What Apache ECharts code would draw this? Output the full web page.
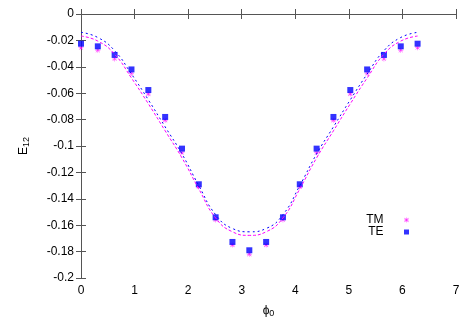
<!DOCTYPE html>
<html>
<head>
<meta charset="utf-8">
<script src="https://cdn.jsdelivr.net/npm/echarts@6/dist/echarts.min.js"></script>
<style>
  html, body { margin: 0; padding: 0; background: #fff; }
  #chart { width: 469px; height: 328px; }
</style>
</head>
<body>
<div id="chart"></div>
<script>
// phi0 sample positions (0 .. 2pi, 21 points)
var phi = [0, 0.314, 0.628, 0.942, 1.257, 1.571, 1.885, 2.199, 2.513, 2.827, 3.142,
           3.456, 3.770, 4.084, 4.398, 4.712, 5.027, 5.341, 5.655, 5.969, 6.283];

// measured points
var tmPts = [-0.0255, -0.0275, -0.034, -0.045, -0.0606, -0.0805, -0.105, -0.131, -0.156, -0.175, -0.182,
             -0.175, -0.156, -0.131, -0.105, -0.0805, -0.0606, -0.045, -0.034, -0.0275, -0.0255];
var tePts = [-0.0225, -0.0245, -0.031, -0.042, -0.0576, -0.078, -0.102, -0.129, -0.154, -0.1727, -0.179,
             -0.1727, -0.154, -0.129, -0.102, -0.078, -0.0576, -0.042, -0.031, -0.0245, -0.0225];

// dashed curves
var tmCurve = [-0.0167, -0.0205, -0.0305, -0.0485, -0.0680, -0.0885, -0.1090, -0.1325, -0.1545, -0.1650, -0.1677,
               -0.1650, -0.1545, -0.1325, -0.1090, -0.0885, -0.0680, -0.0485, -0.0305, -0.0205, -0.0167];
var teCurve = [-0.0139, -0.0178, -0.0278, -0.0455, -0.0650, -0.0855, -0.1060, -0.1300, -0.1520, -0.1625, -0.1650,
               -0.1625, -0.1520, -0.1300, -0.1060, -0.0855, -0.0650, -0.0455, -0.0278, -0.0178, -0.0139];

function pairs(ys) {
    return phi.map(function (x, i) { return [x, ys[i]]; });
}

var starPath = 'path://M4.5 0h1v10h-1z M0 4.5h10v1h-10z M1.3 0.6L9.4 8.7L8.7 9.4L0.6 1.3z M8.7 0.6L9.4 1.3L1.3 9.4L0.6 8.7z';
var squarePath = 'path://M0 0h10v10h-10z';
var frame = { show: true, lineStyle: { color: '#555', width: 1 } };
var font = 'Liberation Sans, Arial, sans-serif';
var subRich = {
    a: { fontSize: 12, color: '#000', fontFamily: font },
    b: { fontSize: 9, color: '#000', fontFamily: font, padding: [6, 0, 0, 0] }
};

var chart = echarts.init(document.getElementById('chart'));
chart.setOption({
    animation: false,
    backgroundColor: '#fff',
    textStyle: { fontFamily: font },
    grid: { left: 81, right: 13, top: 14, bottom: 50 },
    // y axis title, rotated like gnuplot's ylabel
    graphic: [{
        type: 'text',
        x: 24, y: 146,
        rotation: Math.PI / 2,
        style: {
            text: '{a|E}{b|12}',
            rich: subRich,
            align: 'center',
            verticalAlign: 'middle'
        }
    }],
    legend: {
        data: [{ name: 'TM', icon: starPath }, { name: 'TE', icon: squarePath }],
        orient: 'vertical',
        align: 'right',
        right: 55,
        top: 209,
        itemWidth: 36,
        itemHeight: 5,
        itemGap: 0,
        textStyle: { fontSize: 12, color: '#000', fontFamily: font, lineHeight: 12 }
    },
    xAxis: [{
        type: 'value', min: 0, max: 7, interval: 1,
        name: '{a|ϕ}{b|0}', nameLocation: 'middle', nameGap: 25,
        nameTextStyle: { rich: subRich },
        axisLine: frame,
        axisTick: { inside: true, length: 5, lineStyle: { color: '#555' } },
        axisLabel: { color: '#000', fontSize: 12, margin: 7 },
        splitLine: { show: false }
    }, {
        type: 'value', position: 'top', min: 0, max: 7, interval: 1,
        axisLine: frame,
        axisTick: { inside: true, length: 5, lineStyle: { color: '#555' } },
        axisLabel: { show: false },
        splitLine: { show: false }
    }],
    yAxis: [{
        type: 'value', min: -0.2, max: 0, interval: 0.02,
        axisLine: frame,
        axisTick: { inside: true, length: 5, lineStyle: { color: '#555' } },
        axisLabel: { color: '#000', fontSize: 12, margin: 7 },
        splitLine: { show: false }
    }, {
        type: 'value', position: 'right', min: -0.2, max: 0, interval: 0.02,
        axisLine: frame,
        axisTick: { inside: true, length: 5, lineStyle: { color: '#555' } },
        axisLabel: { show: false },
        splitLine: { show: false }
    }],
    series: [{
        name: 'TM curve', type: 'line', smooth: true, symbol: 'none',
        data: pairs(tmCurve),
        lineStyle: { color: '#ff00ff', width: 1, type: [3, 2] }
    }, {
        name: 'TE curve', type: 'line', smooth: true, symbol: 'none',
        data: pairs(teCurve),
        lineStyle: { color: '#0000ff', width: 1, type: [2, 3] }
    }, {
        name: 'TM', type: 'scatter', symbol: starPath, symbolSize: 5,
        itemStyle: { color: '#ff00ff' },
        data: pairs(tmPts)
    }, {
        name: 'TE', type: 'scatter', symbol: squarePath, symbolSize: 6,
        itemStyle: { color: '#0000ff' },
        data: pairs(tePts)
    }]
});
</script>
</body>
</html>
